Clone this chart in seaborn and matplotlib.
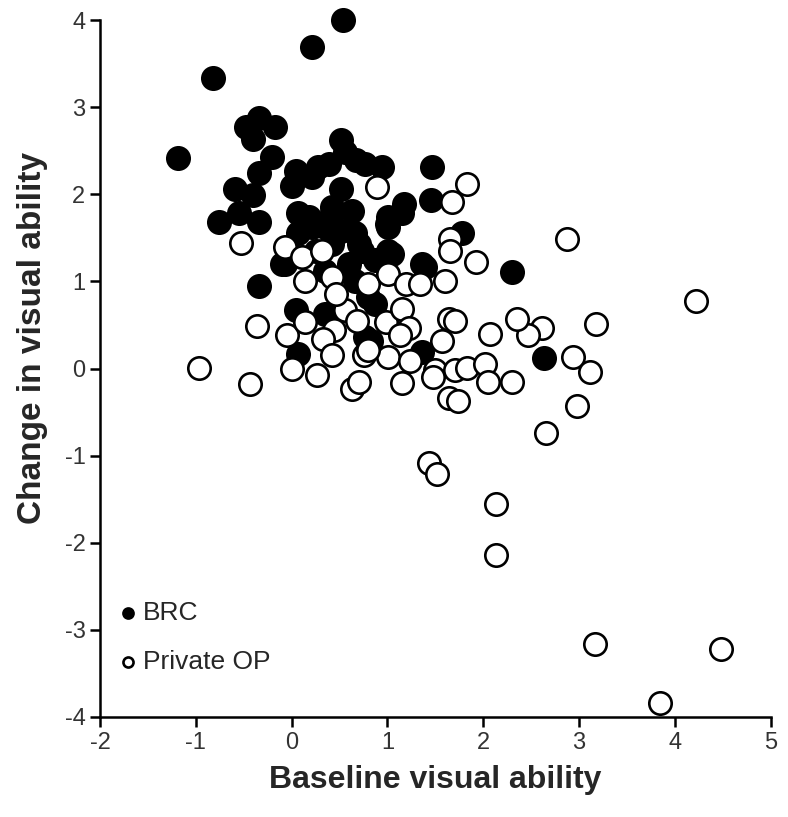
"""Change in visual ability vs baseline, BRC vs private OP."""

import pandas as pd
import matplotlib
matplotlib.use("Agg")
import matplotlib.pyplot as plt
import seaborn as sns

# values
brc_x = [0.54, 0.21, -0.82, -1.19, -0.48, -0.34, -0.17, -0.40, -0.21,
         0.52, 0.56, -0.34, -0.59, -0.40, 0.04, 0.00, 0.21, 0.39, 0.28, 0.67,
         0.77, 0.94, 0.52, -0.76, -0.55, -0.34, 0.07, 0.21, 0.42, 0.63, 1.01,
         0.18, 0.42, 0.07, 0.35, 0.52, 0.66, 0.73, 0.42, -0.07, -0.34,
         1.46, 1.45, 1.17, 1.15, 0.99, 1.78, 1.05, 1.39, 2.30, 0.87,
         0.04, 0.35, 0.07, 0.77, 0.66, 2.63, 1.36, 0.87, 0.83,
         0.70, 1.01, 1.36, 1.01, 0.80, 0.35, -0.10, 0.60, 0.25]
brc_y = [4.00, 3.69, 3.34, 2.42, 2.77, 2.87, 2.77, 2.64, 2.43,
         2.62, 2.48, 2.24, 2.06, 1.99, 2.27, 2.10, 2.20, 2.35, 2.31, 2.39,
         2.35, 2.31, 2.06, 1.68, 1.78, 1.68, 1.78, 1.62, 1.78, 1.81, 1.62,
         1.74, 1.85, 1.55, 1.62, 1.58, 1.55, 1.35, 1.43, 1.20, 0.95,
         2.31, 1.93, 1.89, 1.78, 1.66, 1.55, 1.32, 1.16, 1.11, 1.24,
         0.67, 0.63, 0.17, 0.36, 1.01, 0.12, 0.19, 0.74, 0.32,
         1.43, 1.35, 1.20, 1.74, 0.82, 1.12, 1.20, 1.20, 1.35]

op_x = [-0.97, -0.53, -0.36, -0.43, -0.07, 0.11, 0.32, 0.14, 0.42, 0.80,
        1.01, 1.19, 1.34, 1.60, 0.56, 0.98, 1.15, -0.05, 0.14, 0.44,
        0.68, 0.33, 1.22, 0.00, 0.26, 0.42, 0.75, 0.63, 0.70, 1.01,
        1.24, 0.46, 0.89, 1.83, 1.67, 1.65, 1.65, 1.92, 2.87, 4.22,
        3.18, 2.61, 2.47, 2.35, 2.07, 1.64, 1.71, 1.57, 1.13, 2.94,
        3.11, 2.98, 2.66, 1.50, 1.48, 1.71, 1.83, 2.02, 2.05, 2.30,
        1.15, 1.64, 1.74, 1.43, 1.52, 2.13, 2.13, 3.17, 4.48, 3.85, 0.80]
op_y = [0.01, 1.44, 0.49, -0.18, 1.39, 1.28, 1.35, 1.01, 1.05, 0.97,
        1.09, 0.97, 0.97, 1.01, 0.67, 0.53, 0.68, 0.38, 0.53, 0.44,
        0.55, 0.34, 0.46, 0.00, -0.08, 0.15, 0.15, -0.23, -0.16, 0.13,
        0.09, 0.86, 2.08, 2.12, 1.91, 1.49, 1.35, 1.22, 1.49, 0.78,
        0.51, 0.47, 0.38, 0.57, 0.40, 0.57, 0.55, 0.31, 0.38, 0.13,
        -0.04, -0.43, -0.74, -0.02, -0.10, -0.02, 0.01, 0.05, -0.15, -0.16,
        -0.17, -0.34, -0.37, -1.09, -1.21, -1.55, -2.14, -3.16, -3.22, -3.84, 0.21]

brc = pd.DataFrame({"baseline": brc_x, "change": brc_y})
op = pd.DataFrame({"baseline": op_x, "change": op_y})

sns.set_style("ticks")
plt.rcParams["font.family"] = ["Liberation Sans", "DejaVu Sans"]
plt.rcParams["axes.unicode_minus"] = False

fig = plt.figure(figsize=(7.88, 8.17), dpi=100)
ax = fig.add_axes([0.127, 0.1224, 0.851, 0.8531])

sns.scatterplot(data=brc, x="baseline", y="change", ax=ax, color="black",
                edgecolor="black", linewidth=1.9, s=260, label="BRC",
                zorder=2, clip_on=False)
sns.scatterplot(data=op, x="baseline", y="change", ax=ax, color="white",
                edgecolor="black", linewidth=1.9, s=260, label="Private OP",
                zorder=3, clip_on=False)

ax.set_xlim(-2, 5)
ax.set_ylim(-4, 4)
ax.set_xticks(range(-2, 6))
ax.set_yticks(range(-4, 5))
ax.set_xlabel("Baseline visual ability", fontsize=23, fontweight="bold",
              color="#262626", labelpad=8)
ax.set_ylabel("Change in visual ability", fontsize=24, fontweight="bold",
              color="#262626")
ax.yaxis.set_label_coords(-0.078, 0.544)
ax.tick_params(direction="out", length=7, width=1.8, labelsize=17,
               labelcolor="#333333", color="black")
for side in ["left", "bottom"]:
    ax.spines[side].set_linewidth(1.8)
    ax.spines[side].set_color("black")
sns.despine(ax=ax)

leg = ax.legend(loc="upper left", bbox_to_anchor=(0.03, 0.167), frameon=False,
                markerscale=0.45, fontsize=19, handlelength=0.6,
                handletextpad=0.25, borderpad=0, borderaxespad=0,
                labelspacing=0.95)
for t in leg.get_texts():
    t.set_color("#262626")

fig.savefig("out.png", dpi=100)
